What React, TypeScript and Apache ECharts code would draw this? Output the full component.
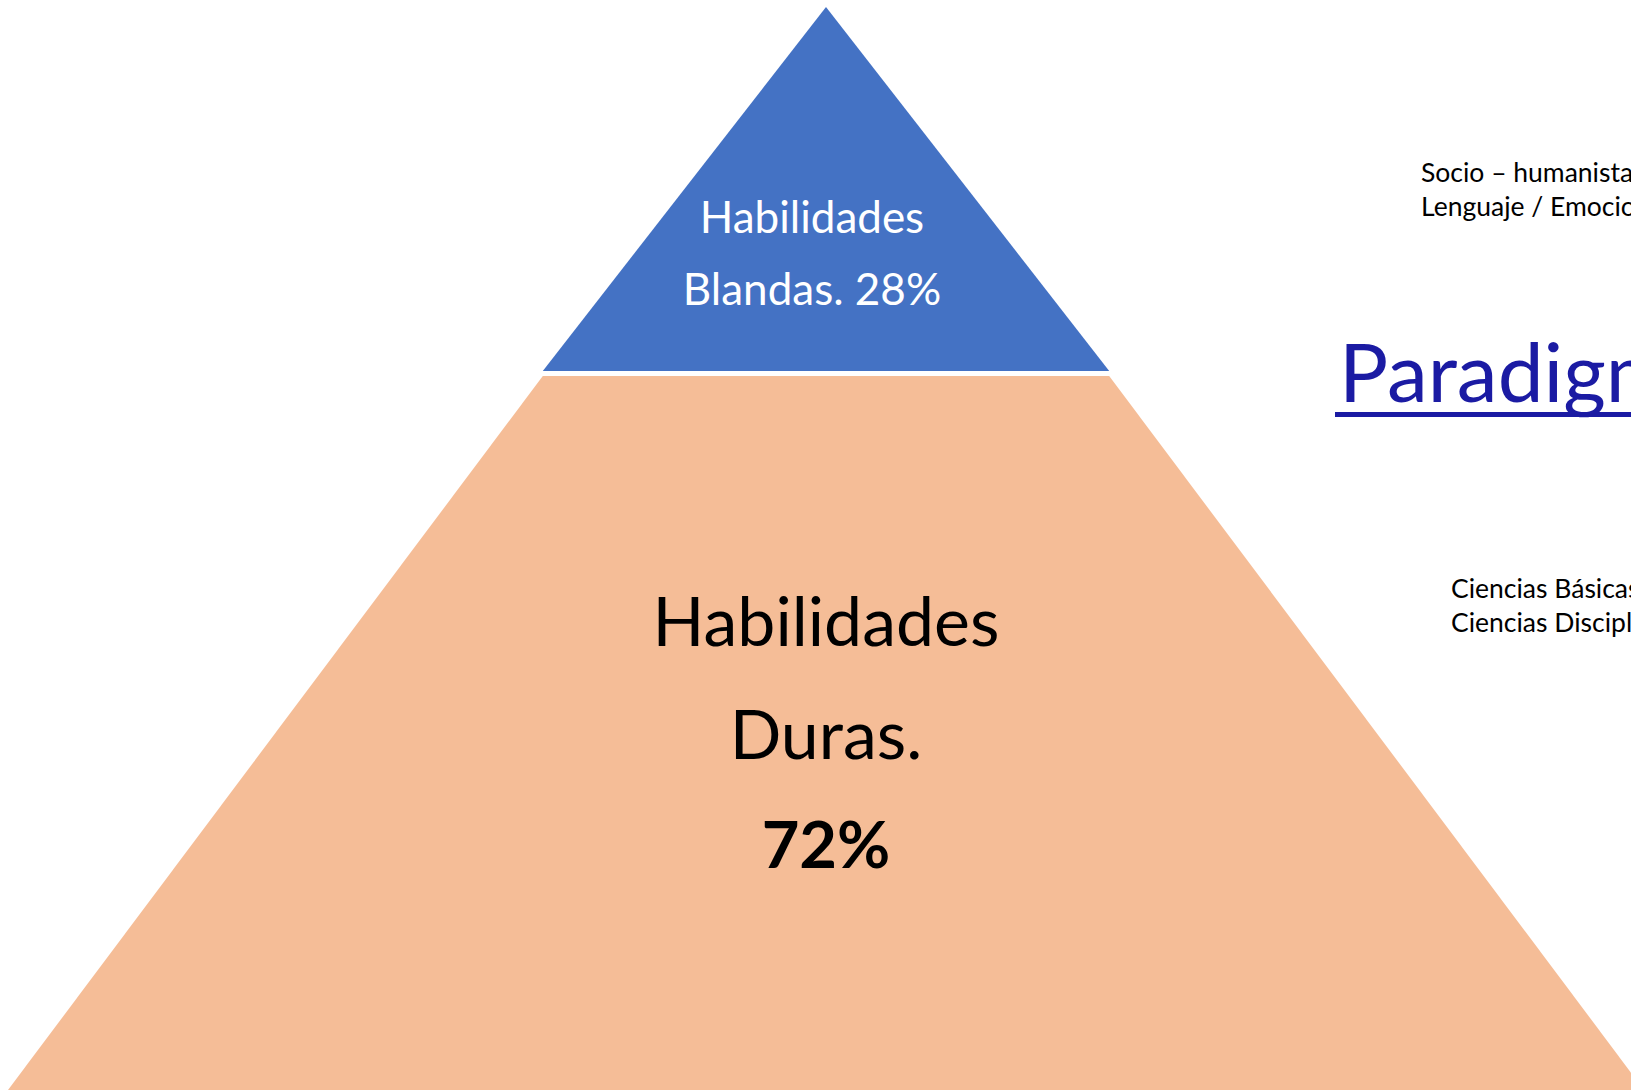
import React, { useEffect, useRef } from "react";
import * as echarts from "echarts";

const categories = ["Habilidades Blandas.", "Habilidades Duras."];
const values = [28, 72];
const colors = ["#4472C4", "#F5BD97"];
const topNotes = ["Socio – humanista", "Lenguaje / Emociones"];
const bottomNotes = ["Ciencias Básicas", "Ciencias Disciplinares"];
const linkText = "Paradigmas";

const FONT = "Lato, 'Open Sans', sans-serif";

export default function App() {
  const ref = useRef<HTMLDivElement>(null);
  useEffect(() => {
    const chart = echarts.init(ref.current!, null, { renderer: "svg" });
    const option: any = {
      animation: false,
      backgroundColor: "#ffffff",
      series: [
        {
          type: "funnel",
          sort: "ascending",
          left: 8,
          top: 7,
          width: 1636,
          height: 1083,
          min: 4.7,
          max: 72,
          minSize: "0%",
          maxSize: "100%",
          gap: 5,
          silent: true,
          label: {
            show: true,
            position: "inside",
            fontFamily: FONT,
          },
          labelLine: { show: false },
          data: [
            {
              name: categories[0],
              value: values[0],
              itemStyle: { color: colors[0], height: 364, borderWidth: 0 },
              label: {
                padding: [126, 28, 0, 0],
                formatter: (p: any) => {
                  const parts = String(p.name).split(" ");
                  return `{w|${parts[0]}}\n{w|${parts[1]} ${p.value}%}`;
                },
                rich: {
                  w: { color: "#ffffff", fontSize: 44, lineHeight: 72, fontFamily: FONT },
                },
              },
            },
            {
              name: categories[1],
              value: values[1],
              itemStyle: { color: colors[1], height: 714, borderWidth: 0 },
              label: {
                padding: [0, 0, 6, 0],
                formatter: (p: any) => {
                  const parts = String(p.name).split(" ");
                  return `{d|${parts[0]}}\n{d|${parts[1]}}\n{b|${p.value}%}`;
                },
                rich: {
                  d: { color: "#000000", fontSize: 68, lineHeight: 113, fontFamily: FONT },
                  b: { color: "#000000", fontSize: 65, fontWeight: "bold", lineHeight: 108, fontFamily: FONT },
                },
              },
            },
          ],
        },
      ],
      graphic: [
        {
          type: "text",
          left: 1421,
          top: 155,
          style: {
            text: topNotes.join("\n"),
            fontSize: 26.5,
            lineHeight: 34,
            fontFamily: FONT,
            fill: "#000000",
          },
        },
        {
          type: "text",
          left: 1451,
          top: 571,
          style: {
            text: bottomNotes.join("\n"),
            fontSize: 26.5,
            lineHeight: 34,
            fontFamily: FONT,
            fill: "#000000",
          },
        },
        {
          type: "text",
          left: 1339,
          top: 329,
          style: {
            text: linkText,
            fontSize: 82,
            fontFamily: FONT,
            fill: "#1B1BA3",
          },
        },
        {
          type: "rect",
          shape: { x: 1335, y: 412, width: 300, height: 5 },
          style: { fill: "#1B1BA3" },
        },
      ],
    };
    chart.setOption(option);
    return () => chart.dispose();
  }, []);
  return (
    <div
      ref={ref}
      style={{ position: "fixed", left: 0, top: 0, width: 1631, height: 1090 }}
    />
  );
}
